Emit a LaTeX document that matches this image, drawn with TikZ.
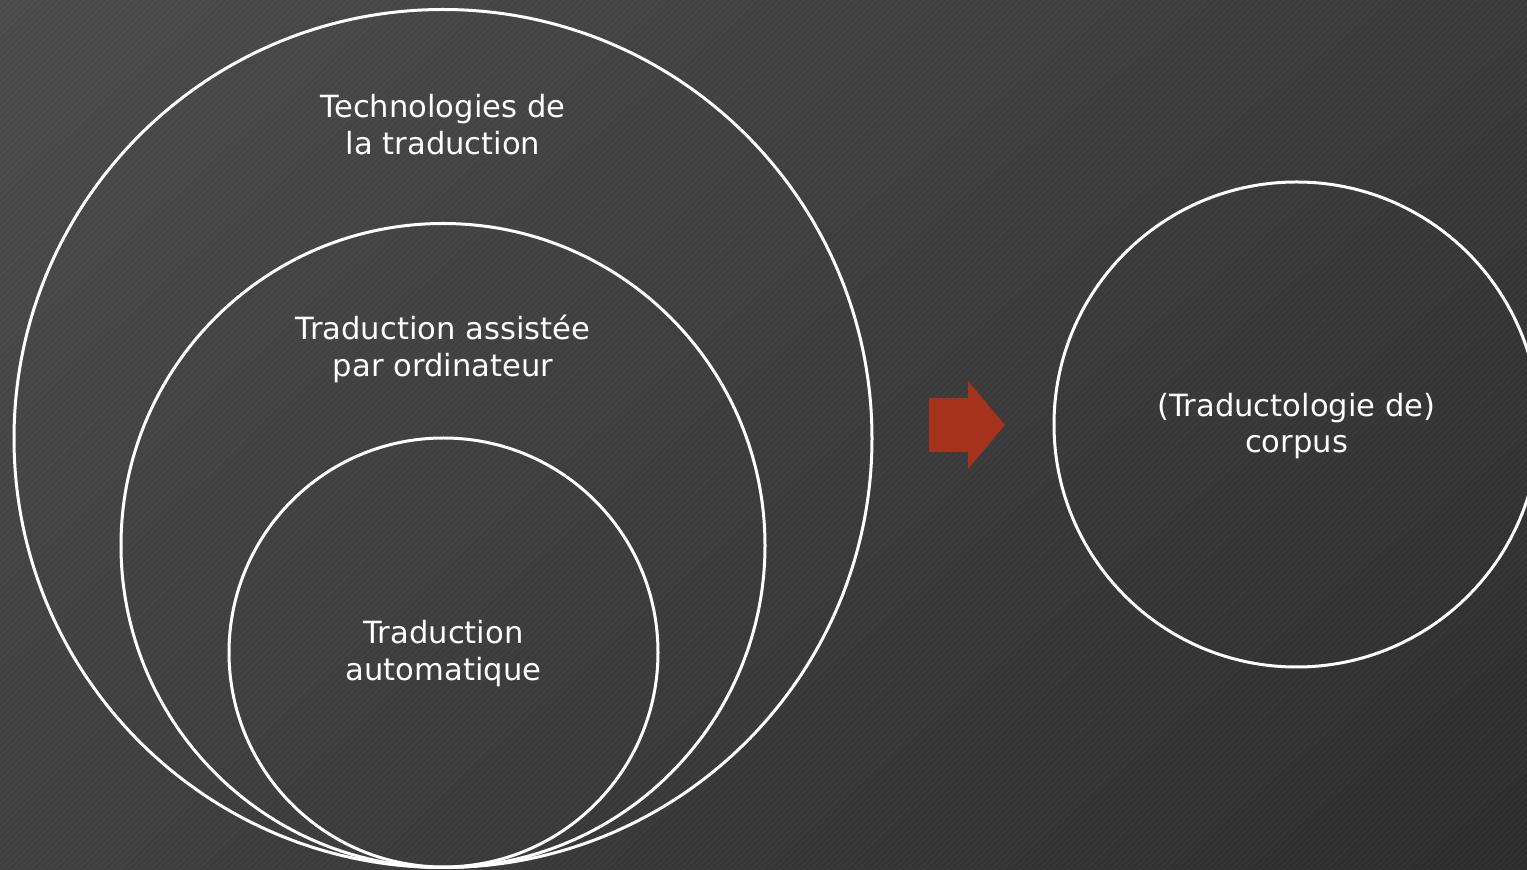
\documentclass[tikz,border=0pt]{standalone}
\usepackage{fontspec}
\usetikzlibrary{shadings}
\setmainfont{DejaVu Sans}
\definecolor{bgTL}{HTML}{4A4A4A}
\definecolor{bgTR}{HTML}{393939}
\definecolor{bgBL}{HTML}{3F3F3F}
\definecolor{bgBR}{HTML}{2C2C2C}
\definecolor{arrowred}{HTML}{A5321A}
\begin{document}
\begin{tikzpicture}[x=0.5pt,y=-0.5pt,
  ring/.style={draw=white,line width=1.5pt,circle,inner sep=0pt},
  label/.style={text=white,align=center,font=\fontsize{15.3}{18.2}\selectfont},
  stripe/.style={white,opacity=0.035,line width=0.6pt}]
  % backdrop
  \useasboundingbox (0,0) rectangle (1527,870);
  \shade[upper left=bgTL,upper right=bgTR,lower left=bgBL,lower right=bgBR]
    (0,0) rectangle (1527,870);
  \begin{scope}
    \clip (0,0) rectangle (1527,870);
    \foreach \s in {0,6,...,2400}
      \draw[stripe] (\s-870,870) -- (\s,0);
  \end{scope}

  % nested circles
  \node[ring,minimum size=429pt] (outer) at (443,438.5) {};
  \node[ring,minimum size=322pt] (middle) at (443,545.5) {};
  \node[ring,minimum size=214.5pt] (inner) at (443.5,652.5) {};
  % corpus circle
  \begin{scope}
    \clip (0,0) rectangle (1527,870);
    \node[ring,minimum size=242.5pt] (corpus) at (1296.5,424.5) {};
  \end{scope}

  % labels
  \node[label] (tech) at (443,124.5) {Technologies de\\la traduction};
  \node[label] (tao) at (443,349) {Traduction assistée\\par ordinateur};
  \node[label] (ta) at (443.5,653.5) {Traduction\\automatique};
  \node[label] (corp) at (1296.5,426) {(Traductologie de)\\corpus};

  % block arrow
  \fill[arrowred] (929,398) -- (968,398) -- (968,381) -- (1005,425)
    -- (968,469) -- (968,452) -- (929,452) -- cycle;
\end{tikzpicture}
\end{document}
